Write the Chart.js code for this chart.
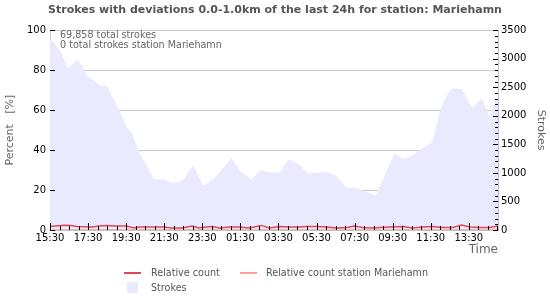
<!DOCTYPE html>
<html><head><meta charset="utf-8">
<script src="https://cdn.jsdelivr.net/npm/chart.js@4/dist/chart.umd.min.js"></script>
<style>html,body{margin:0;padding:0;background:#fff;}#wrap{width:550px;height:300px;position:relative;}</style>
</head><body><div id="wrap"><canvas id="c" width="550" height="300"></canvas></div>
<script>
const chartTitle = 'Strokes with deviations 0.0-1.0km of the last 24h for station: Mariehamn';
const xTickLabels = ['15:30','17:30','19:30','21:30','23:30','01:30','03:30','05:30','07:30','09:30','11:30','13:30'];
const xMaxMinutes = 1412;
// strokes (right axis), minutes since 15:30
const strokeMinutes = [0,20,35,57,88,117,155,180,218,243,259,281,303,328,360,385,417,452,483,512,540,572,603,635,666,685,723,752,780,812,840,875,903,935,966,998,1026,1055,1086,1112,1140,1165,1206,1222,1238,1266,1298,1330,1361,1386,1405,1412];
const strokeCounts  = [3360,3230,3115,2835,2990,2710,2540,2520,2100,1785,1700,1350,1140,890,890,820,860,1140,770,875,1050,1260,1015,890,1050,1015,1000,1240,1170,1000,1000,1015,945,735,735,665,610,960,1350,1240,1295,1400,1540,1925,2240,2485,2470,2135,2310,1960,2310,2250];
// relative count (left axis, %)
const relMinutes = [0,44,66,85,133,155,177,208,240,265,281,335,360,382,417,448,470,493,512,534,565,597,628,666,692,723,755,786,808,840,872,903,935,960,985,1017,1039,1071,1112,1143,1175,1206,1238,1270,1298,1323,1355,1386,1412];
const relCounts  = [1.7,2.4,2.2,1.8,1.5,2.0,2.3,2.0,2.0,1.0,1.5,1.5,1.5,1.0,1.0,2.0,1.0,1.5,1.7,1.0,1.5,1.5,1.0,2.3,1.0,1.8,1.5,1.5,1.8,1.8,1.5,1.0,1.3,2.0,1.3,1.0,1.3,1.5,1.8,1.0,1.5,1.8,1.3,1.3,2.5,1.5,1.3,1.3,2.0];
// relative count station Mariehamn (all zero)
const stationMinutes = [0,1412];
const stationRel = [0,0];
const infoLines = ['69,858 total strokes','0 total strokes station Mariehamn'];
const legendItems = ['Relative count','Relative count station Mariehamn','Strokes'];

const RED = 'rgb(222,72,88)', PINK = 'rgb(255,160,160)', LAV = 'rgb(234,234,255)';
const FONT = 'DejaVu Sans';
const zip = (xs, ys) => xs.map((v, i) => ({x: v, y: ys[i]}));

const extras = {
  id: 'extras',
  afterDatasetsDraw(chart) {
    const {ctx, chartArea: a, scales: {x, y, y2}} = chart;
    ctx.save();
    ctx.strokeStyle = '#000'; ctx.lineWidth = 1;
    ctx.beginPath();
    for (let t = 0; t <= x.max; t += 30) {
      const px = Math.round(x.getPixelForValue(t)) + 0.5;
      const len = t % 120 === 0 ? 7 : 4;
      ctx.moveTo(px, a.bottom); ctx.lineTo(px, a.bottom - len);
    }
    for (let v = 0; v <= 100; v += 20) {
      const py = Math.round(y.getPixelForValue(v)) + 0.5;
      ctx.moveTo(a.left, py); ctx.lineTo(a.left + 5, py);
    }
    for (let v = 0; v <= 3500; v += 100) {
      const py = Math.round(y2.getPixelForValue(v)) + 0.5;
      const len = v % 500 === 0 ? 5 : 3;
      ctx.moveTo(a.right, py); ctx.lineTo(a.right - len, py);
    }
    ctx.stroke();
    ctx.fillStyle = '#666';
    ctx.font = '9.6px "' + FONT + '"';
    ctx.textBaseline = 'middle'; ctx.textAlign = 'left';
    ctx.fillText(infoLines[0], 60, 35);
    ctx.fillText(infoLines[1], 60, 45);
    // legend
    ctx.lineWidth = 2;
    ctx.strokeStyle = RED; ctx.beginPath(); ctx.moveTo(124, 273); ctx.lineTo(141, 273); ctx.stroke();
    ctx.strokeStyle = PINK; ctx.beginPath(); ctx.moveTo(240, 273); ctx.lineTo(257, 273); ctx.stroke();
    ctx.fillStyle = LAV; ctx.fillRect(127, 282, 11, 11);
    ctx.fillStyle = '#555';
    ctx.fillText(legendItems[0], 151, 273);
    ctx.fillText(legendItems[1], 266, 273);
    ctx.fillText(legendItems[2], 151, 288);
    ctx.restore();
  }
};

new Chart(document.getElementById('c'), {
  type: 'line',
  data: {
    datasets: [
      {label: legendItems[0], data: zip(relMinutes, relCounts), yAxisID: 'y', borderColor: RED, borderWidth: 1.5, pointRadius: 0, tension: 0, fill: false},
      {label: legendItems[1], data: zip(stationMinutes, stationRel), yAxisID: 'y', borderColor: PINK, borderWidth: 1.5, pointRadius: 0, fill: false},
      {label: legendItems[2], data: zip(strokeMinutes, strokeCounts), yAxisID: 'y2', borderColor: LAV, borderWidth: 0, backgroundColor: LAV, pointRadius: 0, tension: 0, fill: 'origin'}
    ]
  },
  options: {
    responsive: false, animation: false, devicePixelRatio: 1,
    layout: {padding: 0},
    plugins: {
      legend: {display: false}, tooltip: {enabled: false},
      title: {display: true, text: chartTitle, color: '#555', font: {family: FONT, size: 11, weight: 'bold'}, padding: {top: 4, bottom: 13}}
    },
    scales: {
      x: {
        type: 'linear', min: 0, max: xMaxMinutes,
        afterFit: s => { s.height = 70; },
        grid: {drawOnChartArea: false, drawTicks: false},
        border: {color: '#c0c0c0'},
        ticks: {stepSize: 120, includeBounds: false, autoSkip: false, maxRotation: 0, padding: 2, color: '#000', font: {family: FONT, size: 10},
          callback: v => xTickLabels[Math.round(v / 120)] ?? ''},
        title: {display: true, text: 'Time', align: 'end', color: '#666', font: {family: FONT, size: 12}, padding: {top: 0, bottom: 43}}
      },
      y: {
        position: 'left', min: 0, max: 100,
        afterFit: s => { s.width = 50; },
        grid: {color: '#c8c8c8', drawTicks: false},
        border: {color: '#c0c0c0'},
        ticks: {stepSize: 20, padding: 4, color: '#000', font: {family: FONT, size: 10}, callback: v => String(v)},
        title: {display: true, text: 'Percent   [%]', color: '#666', font: {family: FONT, size: 11}, padding: {top: 4, bottom: 0}}
      },
      y2: {
        position: 'right', min: 0, max: 3500,
        afterFit: s => { s.width = 52; },
        grid: {drawOnChartArea: false, drawTicks: false},
        border: {color: '#c0c0c0'},
        ticks: {stepSize: 500, padding: 3, color: '#000', font: {family: FONT, size: 10}, callback: v => String(v)},
        title: {display: true, text: 'Strokes', color: '#666', font: {family: FONT, size: 11}, padding: {top: 3, bottom: 0}}
      }
    }
  },
  plugins: [extras]
});
</script></body></html>
